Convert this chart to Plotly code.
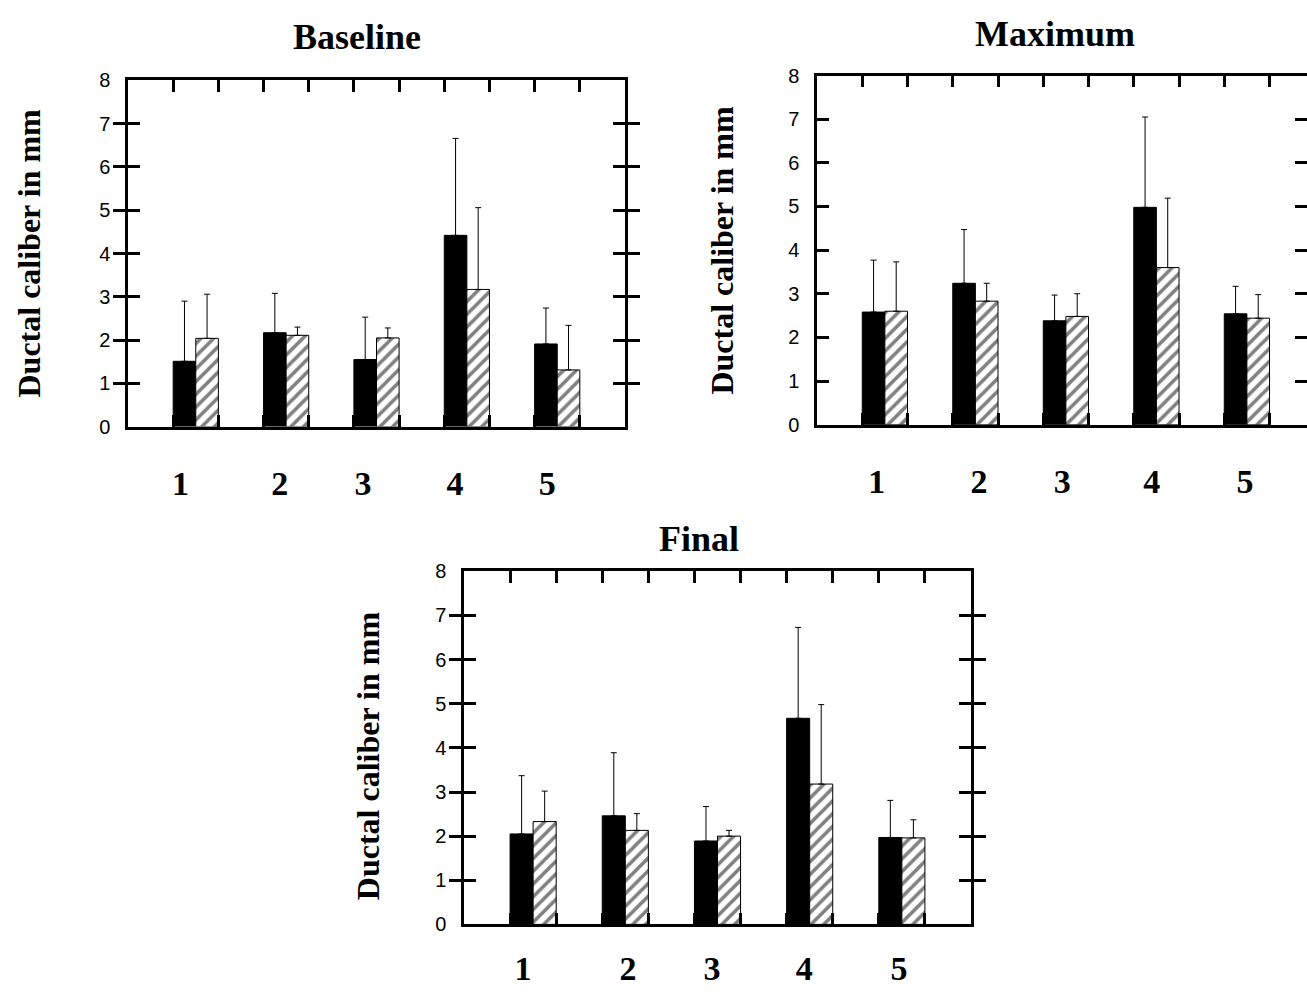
import plotly.graph_objects as go

# ---------------- data ----------------
categories = [1, 2, 3, 4, 5]
tick_text = ["1", "2", "3", "4", "5"]

baseline_solid = [1.51, 2.17, 1.55, 4.42, 1.91]
baseline_solid_sd = [1.39, 0.91, 0.98, 2.24, 0.83]
baseline_hatch = [2.04, 2.11, 2.05, 3.17, 1.31]
baseline_hatch_sd = [1.02, 0.19, 0.23, 1.89, 1.03]

maximum_solid = [2.58, 3.24, 2.38, 4.98, 2.54]
maximum_solid_sd = [1.19, 1.23, 0.59, 2.07, 0.63]
maximum_hatch = [2.60, 2.83, 2.48, 3.60, 2.44]
maximum_hatch_sd = [1.13, 0.41, 0.52, 1.59, 0.54]

final_solid = [2.05, 2.46, 1.89, 4.67, 1.97]
final_solid_sd = [1.32, 1.43, 0.78, 2.06, 0.84]
final_hatch = [2.33, 2.13, 2.00, 3.18, 1.96]
final_hatch_sd = [0.69, 0.38, 0.13, 1.80, 0.41]

# positions of the printed group numbers under each panel (data units)
baseline_label_pos = [0.83, 1.93, 2.85, 3.87, 4.89]
maximum_label_pos = [0.91, 2.04, 2.96, 3.95, 4.98]
final_label_pos = [0.89, 2.03, 2.94, 3.94, 4.97]

panel_titles = ["Baseline", "Maximum", "Final"]
y_title = "Ductal caliber in mm"

# ---------------- figure ----------------
W, H = 1307, 997
SERIF = "Liberation Serif, Times New Roman, serif"
SANS = "Liberation Sans, Arial, sans-serif"

def px(x):
    return x / W

def py(y):
    return 1 - y / H

# panel boxes in pixels: left, right, top, bottom
boxes = [
    (128, 625, 71, 425),
    (817, 1307, 66, 423),
    (464, 971, 573, 934),
]
ranges = [[0.25, 5.75], [0.25, 5.664], [0.25, 5.75]]
label_standoff = [33, 33, 21]
cut_right = [False, True, False]

panels = [
    (baseline_solid, baseline_solid_sd, baseline_hatch, baseline_hatch_sd, baseline_label_pos),
    (maximum_solid, maximum_solid_sd, maximum_hatch, maximum_hatch_sd, maximum_label_pos),
    (final_solid, final_solid_sd, final_hatch, final_hatch_sd, final_label_pos),
]

edges = sorted([c - 0.25 for c in categories] + [c + 0.25 for c in categories])

fig = go.Figure()
layout = dict(
    width=W, height=H,
    margin=dict(l=0, r=0, t=0, b=0),
    paper_bgcolor="white", plot_bgcolor="white",
    showlegend=False,
    barmode="group", bargap=0.5, bargroupgap=0,
    annotations=[],
)

title_pos = [(357, 27), (1055, 24), (699, 540)]
ytitle_pos = [(29, 248), (722, 245), (368, 762)]

tick_style = dict(ticks="inside", ticklen=12, tickwidth=2.5, tickcolor="black")

for i, (solid, solid_sd, hatch, hatch_sd, lab_pos) in enumerate(panels):
    n = i + 1
    xa = "x" if n == 1 else f"x{n}"
    ya = "y" if n == 1 else f"y{n}"
    xkey = "xaxis" if n == 1 else f"xaxis{n}"
    ykey = "yaxis" if n == 1 else f"yaxis{n}"
    lab_n = n + 3
    lab_key = f"xaxis{lab_n}"
    l, r, t, b = boxes[i]

    fig.add_trace(go.Bar(
        x=categories, y=solid, xaxis=xa, yaxis=ya, offsetgroup="a",
        marker=dict(color="black", line=dict(color="black", width=1)),
        error_y=dict(type="data", symmetric=False, array=solid_sd,
                     arrayminus=[0] * len(solid), color="black",
                     thickness=1, width=3),
    ))
    fig.add_trace(go.Bar(
        x=categories, y=hatch, xaxis=xa, yaxis=ya, offsetgroup="b",
        marker=dict(color="white", line=dict(color="black", width=1),
                    pattern=dict(shape="/", fgcolor="black", bgcolor="white",
                                 size=9, solidity=0.4)),
        error_y=dict(type="data", symmetric=False, array=hatch_sd,
                     arrayminus=[0] * len(hatch), color="black",
                     thickness=1, width=3),
    ))
    # invisible trace to carry the label axis
    fig.add_trace(go.Scatter(x=[ranges[i][0]], y=[0], xaxis=f"x{lab_n}", yaxis=ya,
                             mode="markers", marker=dict(opacity=0),
                             hoverinfo="skip"))

    layout[xkey] = dict(
        domain=[px(l), px(r)], anchor=ya, range=ranges[i],
        tickvals=edges, showticklabels=False, **tick_style,
        mirror="allticks", showline=True, linewidth=2.5, linecolor="black",
        showgrid=False, zeroline=False, fixedrange=True,
    )
    layout[lab_key] = dict(
        domain=[px(l), px(r)], anchor=ya, overlaying=xa, range=ranges[i],
        tickvals=lab_pos, ticktext=tick_text, ticks="", showline=False,
        showgrid=False, zeroline=False, side="bottom",
        tickfont=dict(family=SERIF, size=34, color="black", weight="bold"),
        ticklabelstandoff=label_standoff[i], fixedrange=True,
    )
    layout[ykey] = dict(
        domain=[py(b), py(t)], anchor=xa, range=[0, 8], dtick=1, tick0=0,
        **tick_style,
        mirror=False if cut_right[i] else "allticks",
        showline=True, linewidth=2.5, linecolor="black",
        showgrid=False, zeroline=False, fixedrange=True,
        tickfont=dict(family=SANS, size=20, color="black"),
        ticklabelstandoff=11,
    )
    if cut_right[i]:
        # right-hand ticks of the panel that runs off the page edge (no border line)
        layout["yaxis7"] = dict(
            domain=[py(b), py(t)], overlaying=ya, anchor="free", position=1.0,
            side="right", range=[0, 8], dtick=1, tick0=0, **tick_style,
            showticklabels=False, showline=False, showgrid=False,
            zeroline=False, fixedrange=True,
        )
        fig.add_trace(go.Scatter(x=[ranges[i][0]], y=[0], xaxis=f"x{lab_n}",
                                 yaxis="y7", mode="markers",
                                 marker=dict(opacity=0), hoverinfo="skip"))
    tx, ty = title_pos[i]
    layout["annotations"].append(dict(
        text=panel_titles[i], x=px(tx), y=py(ty), xref="paper", yref="paper",
        xanchor="center", yanchor="middle", showarrow=False,
        font=dict(family=SERIF, size=36, color="black", weight="bold"),
    ))
    yx, yy = ytitle_pos[i]
    layout["annotations"].append(dict(
        text=y_title, x=px(yx), y=py(yy), xref="paper", yref="paper",
        xanchor="center", yanchor="middle", showarrow=False, textangle=-90,
        font=dict(family=SERIF, size=32, color="black", weight="bold"),
    ))

fig.update_layout(**layout)
fig.write_html(
    "out.html",
    config={"displayModeBar": False},
    post_script="document.body.style.margin='0px';document.body.style.overflow='hidden';",
)
